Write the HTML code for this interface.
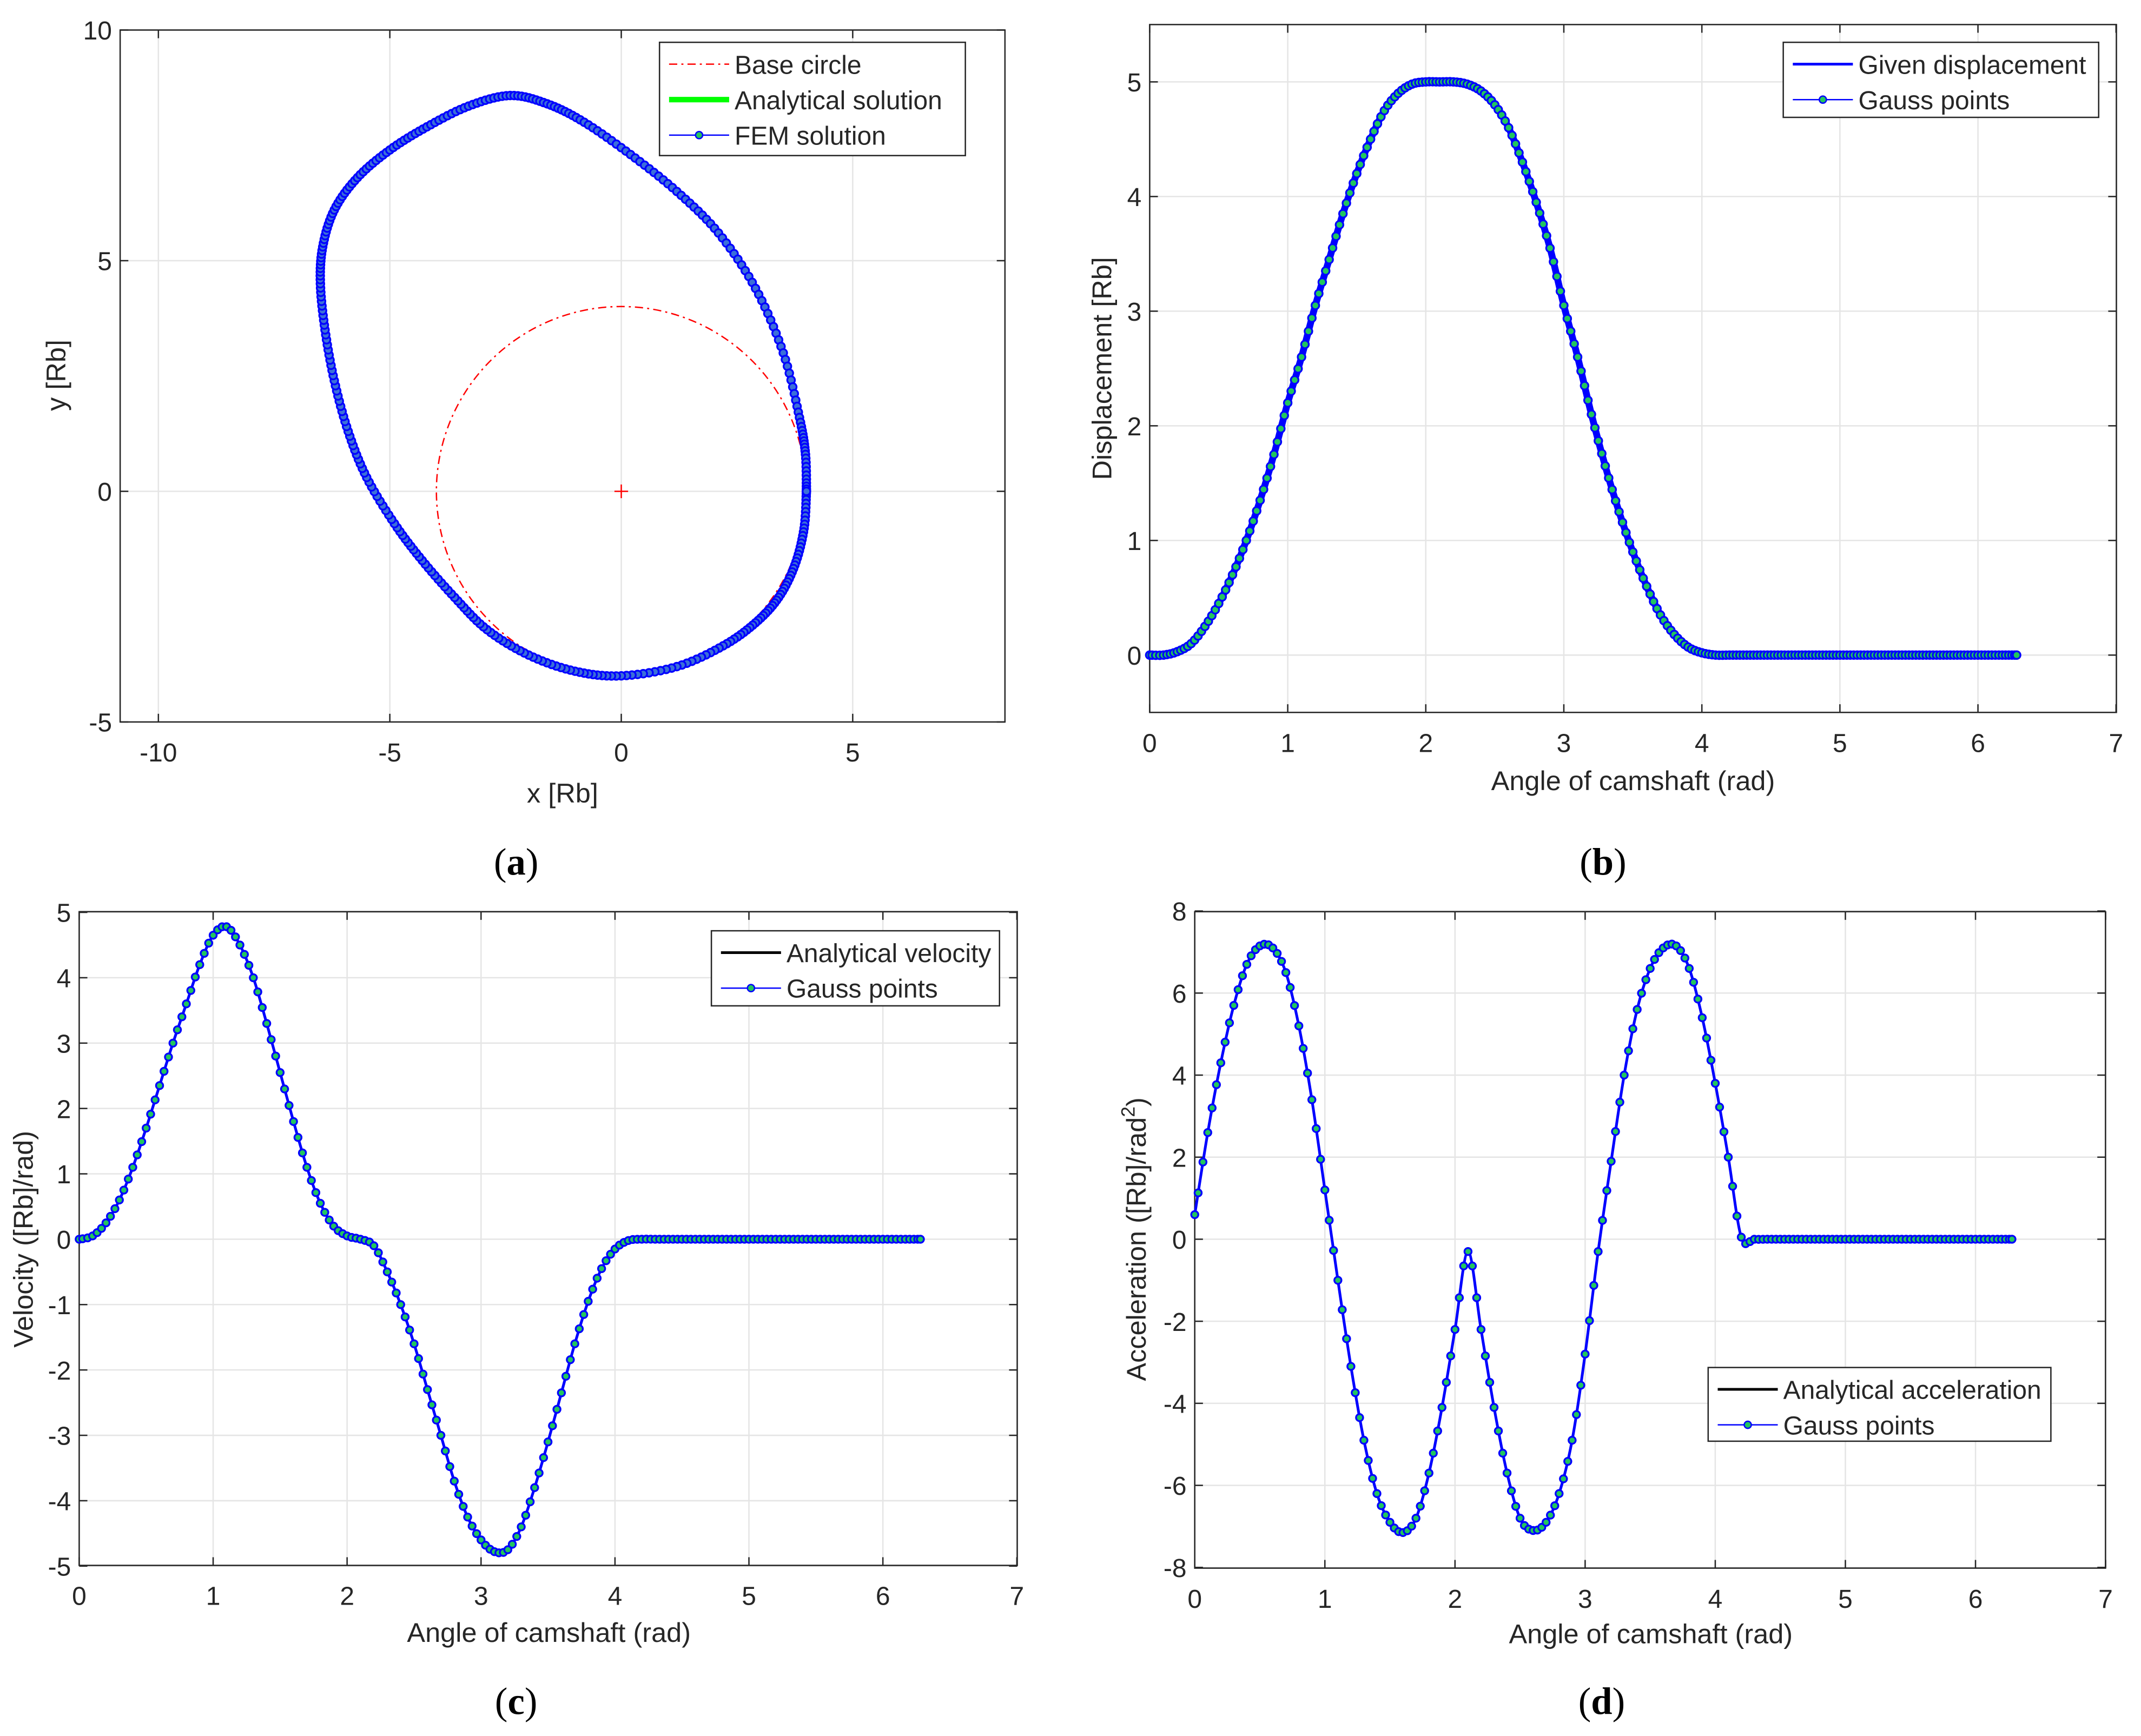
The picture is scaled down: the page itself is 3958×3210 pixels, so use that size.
<!DOCTYPE html>
<html><head><meta charset="utf-8"><style>
html,body{margin:0;padding:0;background:#fff}
svg{display:block}
text{font-family:"Liberation Sans",sans-serif;fill:#262626}
.cap{font-family:"Liberation Serif",serif;fill:#000}
</style></head><body>
<svg id="fig" width="3958" height="3210" viewBox="0 0 1568 1272" preserveAspectRatio="none" xmlns="http://www.w3.org/2000/svg"></svg>
<script>
// ---------- data ----------
const camX = [4.0,3.95,3.75,3.4,2.9,2.2,1.2,0.0,-1.0,-2.0,-2.9,-3.6,-4.3,-4.9,-5.5,-5.9,-6.2,-6.4,-6.5,-6.45,-6.2,-5.7,-5.0,-4.2,-3.3,-2.4,-1.6,-0.8,0.2,1.2,2.1,2.9,3.5,3.85,3.98,4.0];
const camY = [0.0,-0.8,-1.6,-2.3,-2.85,-3.35,-3.8,-4.0,-3.9,-3.55,-3.0,-2.3,-1.5,-0.7,0.3,1.3,2.4,3.5,4.5,5.3,6.1,6.8,7.4,7.9,8.35,8.58,8.4,8.0,7.3,6.5,5.6,4.4,3.0,1.6,0.8,0.0];
const theta = [0,0.1,0.2,0.3,0.4,0.5,0.6,0.7,0.8,0.9,1.0,1.1,1.2,1.3,1.4,1.5,1.6,1.7,1.8,1.9,2.0,2.1,2.2,2.3,2.4,2.5,2.6,2.7,2.8,2.9,3.0,3.1,3.2,3.3,3.4,3.5,3.6,3.7,3.8,3.9,4.0,4.1,4.2,4.3,4.4,4.5,4.6,4.7,4.8,4.9,5.0,5.1,5.2,5.3,5.4,5.5,5.6,5.7,5.8,5.9,6.0,6.1,6.2,6.28];
const disp = [0,0,0.03,0.1,0.25,0.45,0.7,1.0,1.35,1.75,2.2,2.6,3.05,3.45,3.85,4.2,4.5,4.75,4.9,4.98,5.0,5.0,5.0,4.98,4.92,4.8,4.6,4.3,3.95,3.55,3.05,2.6,2.1,1.65,1.25,0.9,0.6,0.35,0.18,0.07,0.02,0,0,0,0,0,0,0,0,0,0,0,0,0,0,0,0,0,0,0,0,0,0,0];
const vel = [0,0.05,0.25,0.6,1.1,1.7,2.35,3.0,3.6,4.2,4.65,4.78,4.5,4.0,3.3,2.55,1.8,1.1,0.55,0.2,0.05,0,-0.1,-0.5,-1.0,-1.6,-2.3,-3.0,-3.7,-4.25,-4.6,-4.78,-4.75,-4.4,-3.8,-3.1,-2.35,-1.6,-0.95,-0.45,-0.15,-0.02,0,0,0,0,0,0,0,0,0,0,0,0,0,0,0,0,0,0,0,0,0,0];
const acc = [0.6,2.6,4.3,5.7,6.7,7.15,7.1,6.5,5.2,3.4,1.2,-1.0,-3.1,-4.9,-6.2,-6.9,-7.15,-6.8,-5.7,-4.1,-2.2,-0.3,-2.2,-4.1,-5.7,-6.8,-7.1,-6.9,-6.2,-4.9,-2.8,-0.3,1.9,4.0,5.6,6.6,7.1,7.15,6.6,5.4,3.8,2.0,0.05,0,0,0,0,0,0,0,0,0,0,0,0,0,0,0,0,0,0,0,0,0];
const baseR = 4;
const ticksA_X = [-10,-5,0,5], ticksA_Y = [-5,0,5,10];
const ticksX = [0,1,2,3,4,5,6,7];
const ticksB_Y = [0,1,2,3,4,5], ticksC_Y = [-5,-4,-3,-2,-1,0,1,2,3,4,5], ticksD_Y = [-8,-6,-4,-2,0,2,4,6,8];

// ---------- helpers ----------
const NS="http://www.w3.org/2000/svg", svg=document.getElementById('fig');
function mk(tag,attrs,parent){const e=document.createElementNS(NS,tag);for(const k in attrs)e.setAttribute(k,attrs[k]);(parent||svg).appendChild(e);return e;}
function txt(s,x,y,size,anchor,parent,cls){const t=mk('text',{x:x,y:y,'font-size':size,'text-anchor':anchor||'middle'},parent);if(cls)t.setAttribute('class',cls);t.textContent=s;return t;}
function crPath(pts){let d='M'+pts[0][0]+','+pts[0][1];for(let i=0;i<pts.length-1;i++){const p0=pts[Math.max(0,i-1)],p1=pts[i],p2=pts[i+1],p3=pts[Math.min(pts.length-1,i+2)];d+=' C'+(p1[0]+(p2[0]-p0[0])/6)+','+(p1[1]+(p2[1]-p0[1])/6)+' '+(p2[0]-(p3[0]-p1[0])/6)+','+(p2[1]-(p3[1]-p1[1])/6)+' '+p2[0]+','+p2[1];}return d;}
function crSample(pts,n){const out=[];for(let i=0;i<pts.length-1;i++){const p0=pts[Math.max(0,i-1)],p1=pts[i],p2=pts[i+1],p3=pts[Math.min(pts.length-1,i+2)];for(let k=0;k<n;k++){const t=k/n,t2=t*t,t3=t2*t;const f=j=>0.5*((2*p1[j])+(-p0[j]+p2[j])*t+(2*p0[j]-5*p1[j]+4*p2[j]-p3[j])*t2+(-p0[j]+3*p1[j]-3*p2[j]+p3[j])*t3);out.push([f(0),f(1)]);}}out.push(pts[pts.length-1]);return out;}

function axes(g,L,T,R,B,sx,sy,xt,yt,name){
  const grid=mk('g',{},g);
  mk('rect',{x:L,y:T,width:R-L,height:B-T,fill:'#fff'},grid);
  xt.forEach(v=>mk('line',{x1:sx(v),x2:sx(v),y1:T,y2:B,stroke:'#e5e5e5','stroke-width':1},grid));
  yt.forEach(v=>mk('line',{x1:L,x2:R,y1:sy(v),y2:sy(v),stroke:'#e5e5e5','stroke-width':1},grid));
  const xa=mk('g',{},g);
  xt.forEach(v=>{mk('line',{x1:sx(v),x2:sx(v),y1:B,y2:B-6,stroke:'#262626','stroke-width':1},xa);mk('line',{x1:sx(v),x2:sx(v),y1:T,y2:T+6,stroke:'#262626','stroke-width':1},xa);txt(String(v),sx(v),B+29,19,'middle',xa);});
  const ya=mk('g',{},g);
  yt.forEach(v=>{mk('line',{x1:L,x2:L+6,y1:sy(v),y2:sy(v),stroke:'#262626','stroke-width':1},ya);mk('line',{x1:R,x2:R-6,y1:sy(v),y2:sy(v),stroke:'#262626','stroke-width':1},ya);txt(String(v),L-6,sy(v)+7,19,'end',ya);});
  mk('rect',{x:L,y:T,width:R-L,height:B-T,fill:'none',stroke:'#262626','stroke-width':1},g);
}
function legend(g,x,y,w,h,items,name){
  const lg=mk('g',{},g);
  mk('rect',{x:x,y:y,width:w,height:h,fill:'#fff',stroke:'#262626','stroke-width':1},lg);
  items.forEach((it,i)=>{const yy=y+16+i*26;const e=mk('g',{},lg);
    mk('line',{x1:x+7,x2:x+51,y1:yy,y2:yy,stroke:it.c,'stroke-width':it.w,'stroke-dasharray':it.d||'none'},e);
    if(it.m)mk('circle',{cx:x+29,cy:yy,r:2.6,fill:'#22c55e',stroke:'#0000ff','stroke-width':1},e);
    txt(it.t,x+55,yy+7,19,'start',e);});
}
function series(g,xs,ys,sx,sy,lineColor,lineW,name,dense,r){
  const pts=xs.map((x,i)=>[sx(x),sy(ys[i])]);
  const l=mk('path',{d:crPath(pts),fill:'none',stroke:lineColor,'stroke-width':lineW},g);
  
  const mg=mk('g',{},g);
  crSample(pts,dense).forEach(p=>{mk('circle',{cx:p[0],cy:p[1],r:r,fill:'#22c55e',stroke:'#0000ff','stroke-width':1.3},mg);});
}

// ---------- panel a ----------
{const g=mk('g',{});
 const L=88,T=22,R=736,B=529;const sx=v=>455+v*33.9, sy=v=>360-v*33.8;
 axes(g,L,T,R,B,sx,sy,ticksA_X,ticksA_Y,'panel-a');
 const bc=mk('circle',{cx:sx(0),cy:sy(0),r:baseR*33.85,fill:'none',stroke:'#ff0000','stroke-width':1,'stroke-dasharray':'6,3,1.5,3'},g);
 
 mk('path',{d:`M${sx(0)-5},${sy(0)} h10 M${sx(0)},${sy(0)-5} v10`,stroke:'#ff0000','stroke-width':1},g);
 const pts=camX.map((x,i)=>[sx(x),sy(camY[i])]);
 const an=mk('path',{d:crPath(pts),fill:'none',stroke:'#00ff00','stroke-width':3},g);
 const fem=mk('path',{d:crPath(pts),fill:'none',stroke:'#0000ff','stroke-width':4.5},g);
 const mg=mk('g',{},g);
 crSample(pts,10).forEach(p=>mk('circle',{cx:p[0],cy:p[1],r:2.8,fill:'#3b6fd8',stroke:'#0000ff','stroke-width':1.3},mg));
 legend(g,483,31,224,83,[{t:'Base circle',c:'#ff0000',w:1,d:'6,3,1.5,3'},{t:'Analytical solution',c:'#00ff00',w:4},{t:'FEM solution',c:'#0000ff',w:1,m:1}],'panel-a-legend');
 txt('x [Rb]',412,588,20,'middle',g);
 const yl=txt('y [Rb]',0,0,20,'middle',g);yl.setAttribute('transform','translate(48,275) rotate(-90)');
 const c=txt('',378,641,28,'middle',g,'cap');c.innerHTML='(<tspan font-weight="bold">a</tspan>)';
}
// ---------- panel b ----------
{const g=mk('g',{});
 const L=842,T=18,R=1550,B=522;const sx=v=>842+v*101.1, sy=v=>480-v*84;
 axes(g,L,T,R,B,sx,sy,ticksX,ticksB_Y,'panel-b');
 series(g,theta,disp,sx,sy,'#0000ff',5,'displacement',4,2.8);
 legend(g,1306,31,231,55,[{t:'Given displacement',c:'#0000ff',w:2},{t:'Gauss points',c:'#0000ff',w:1,m:1}],'panel-b-legend');
 txt('Angle of camshaft (rad)',1196,579,20,'middle',g);
 const yl=txt('Displacement [Rb]',0,0,20,'middle',g);yl.setAttribute('transform','translate(814,270) rotate(-90)');
 const c=txt('',1174,641,28,'middle',g,'cap');c.innerHTML='(<tspan font-weight="bold">b</tspan>)';
}
// ---------- panel c ----------
{const g=mk('g',{});
 const L=58,T=668,R=745,B=1147;const sx=v=>58+v*98.1, sy=v=>908-v*47.9;
 axes(g,L,T,R,B,sx,sy,ticksX,ticksC_Y,'panel-c');
 mk('path',{d:crPath(theta.map((x,i)=>[sx(x),sy(vel[i])])),fill:'none',stroke:'#000','stroke-width':1.5},g);
 series(g,theta,vel,sx,sy,'#0000ff',2,'velocity',3,2.6);
 legend(g,521,682,211,55,[{t:'Analytical velocity',c:'#000',w:2},{t:'Gauss points',c:'#0000ff',w:1,m:1}],'panel-c-legend');
 txt('Angle of camshaft (rad)',402,1203,20,'middle',g);
 const yl=txt('Velocity ([Rb]/rad)',0,0,20,'middle',g);yl.setAttribute('transform','translate(24,908) rotate(-90)');
 const c=txt('',378,1256,28,'middle',g,'cap');c.innerHTML='(<tspan font-weight="bold">c</tspan>)';
}
// ---------- panel d ----------
{const g=mk('g',{});
 const L=875,T=668,R=1542,B=1149;const sx=v=>875+v*95.3, sy=v=>908-v*30.06;
 axes(g,L,T,R,B,sx,sy,ticksX,ticksD_Y,'panel-d');
 mk('path',{d:crPath(theta.map((x,i)=>[sx(x),sy(acc[i])])),fill:'none',stroke:'#000','stroke-width':1.5},g);
 series(g,theta,acc,sx,sy,'#0000ff',2,'acceleration',3,2.6);
 legend(g,1251,1002,251,54,[{t:'Analytical acceleration',c:'#000',w:2},{t:'Gauss points',c:'#0000ff',w:1,m:1}],'panel-d-legend');
 txt('Angle of camshaft (rad)',1209,1204,20,'middle',g);
 const yl=txt('',0,0,20,'middle',g);yl.innerHTML='Acceleration ([Rb]/rad<tspan dy="-8" font-size="14">2</tspan><tspan dy="8">)</tspan>';yl.setAttribute('transform','translate(839,908) rotate(-90)');
 const c=txt('',1173,1256,28,'middle',g,'cap');c.innerHTML='(<tspan font-weight="bold">d</tspan>)';
}
</script>
</body></html>
